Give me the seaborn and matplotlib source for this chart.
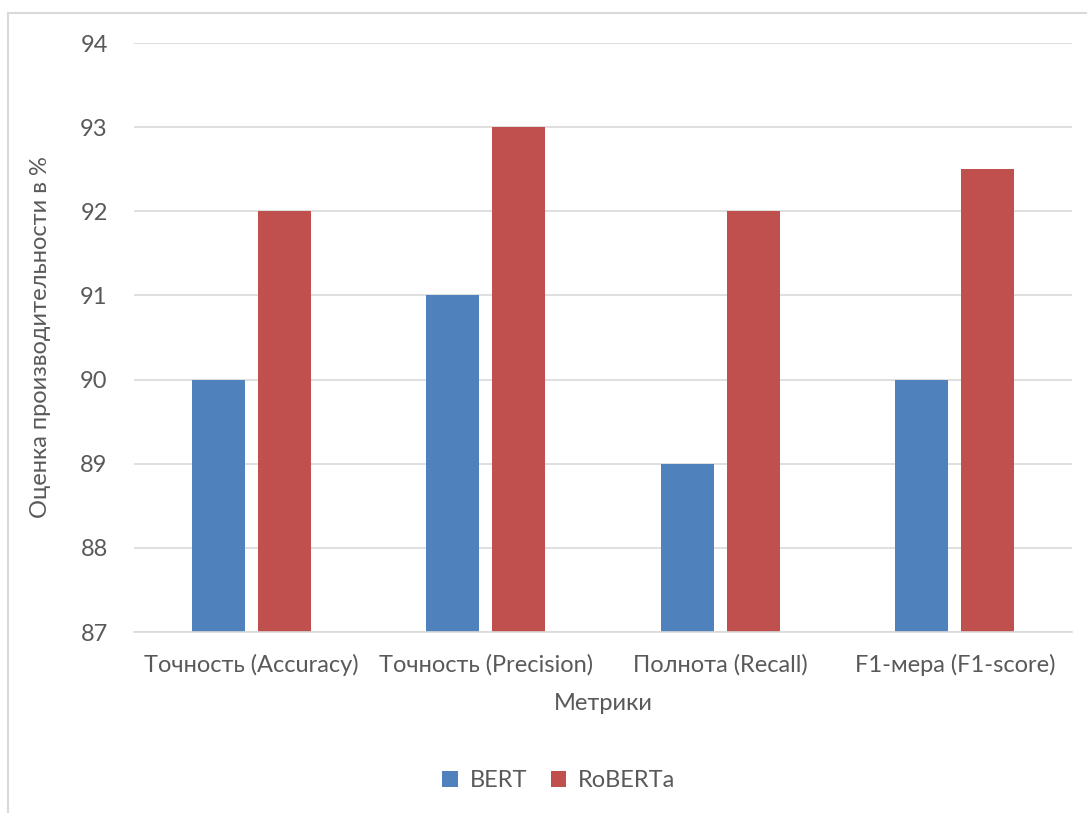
import matplotlib
matplotlib.use("Agg")
import matplotlib.pyplot as plt
from matplotlib.lines import Line2D
from matplotlib.patches import Patch
import seaborn as sns
import pandas as pd

metrics = ["Точность (Accuracy)", "Точность (Precision)", "Полнота (Recall)", "F1-мера (F1-score)"]
models = ["BERT", "RoBERTa"]
bert_scores = [90, 91, 89, 90]
roberta_scores = [92, 93, 92, 92.5]
y_ticks = [87, 88, 89, 90, 91, 92, 93, 94]

colors = {"BERT": "#4F81BD", "RoBERTa": "#C0504D"}
text_color = "#595959"
grid_color = "#D9D9D9"
fs = 17

df = pd.DataFrame({
    "metric": metrics * 2,
    "model": [models[0]] * len(metrics) + [models[1]] * len(metrics),
    "score": bert_scores + roberta_scores,
})

sns.set_theme(style="white")
plt.rcParams["font.family"] = ["Lato", "DejaVu Sans"]

fig = plt.figure(figsize=(10.87, 8.13), dpi=100)
ax = fig.add_axes([0.1233, 0.2226, 0.8629, 0.7245])

sns.barplot(data=df, x="metric", y="score", hue="model", palette=colors,
            width=0.563, gap=0.197, ax=ax, legend=False, saturation=1,
            edgecolor="none", linewidth=0)

ax.set_ylim(y_ticks[0], y_ticks[-1])
ax.set_yticks(y_ticks)
ax.set_xlim(-0.5, len(metrics) - 0.5)
ax.yaxis.grid(True, color=grid_color, linewidth=1.2)
ax.set_axisbelow(True)
for side in ["top", "right", "left"]:
    ax.spines[side].set_visible(False)
ax.spines["bottom"].set_color(grid_color)
ax.spines["bottom"].set_linewidth(1.2)
ax.tick_params(axis="both", length=0, colors=text_color, labelsize=fs)
ax.tick_params(axis="y", pad=19)
ax.tick_params(axis="x", pad=16)
ax.set_xlabel("Метрики", fontsize=fs, color=text_color, labelpad=12)
ax.set_ylabel("Оценка производительности в %", fontsize=fs, color=text_color, labelpad=21)

handles = [Patch(facecolor=colors[m], edgecolor="none") for m in models]
fig.legend(handles, models, loc="center", bbox_to_anchor=(0.514, 0.040),
           ncol=2, frameon=False, fontsize=fs, labelcolor=text_color,
           handlelength=0.65, handleheight=0.65, handletextpad=0.5, columnspacing=1.0)

# chart area outline (left and top edges)
fig.add_artist(Line2D([0.0074, 0.0074], [0.0, 0.984], color="#D9D9D9", linewidth=1.5,
                      transform=fig.transFigure))
fig.add_artist(Line2D([0.0074, 1.0], [0.984, 0.984], color="#D9D9D9", linewidth=1.5,
                      transform=fig.transFigure))

fig.savefig("out.png", dpi=100, facecolor="white")
